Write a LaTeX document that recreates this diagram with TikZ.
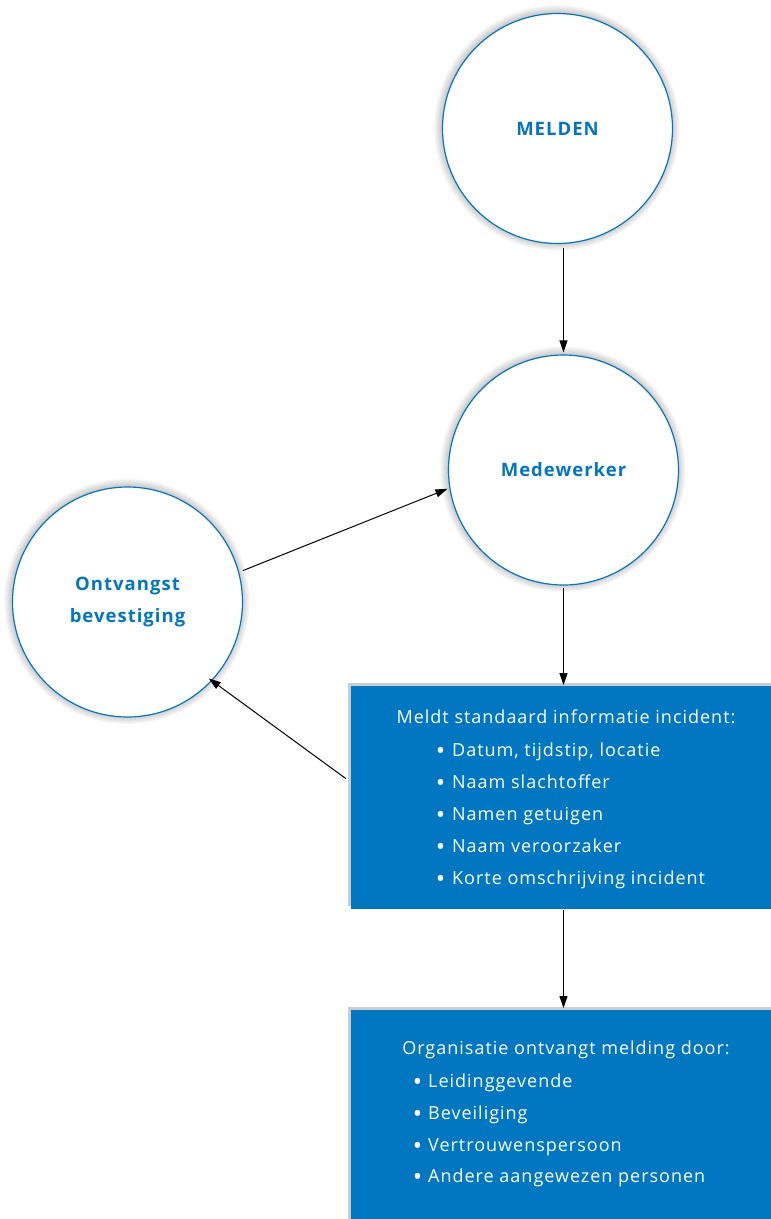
\documentclass[tikz,border=0pt]{standalone}
\usepackage{fontspec}
\setmainfont[LetterSpace=5.5]{Open Sans}
\usetikzlibrary{shadows,fadings,arrows.meta}
\definecolor{meldblauw}{RGB}{0,119,192}
\newcommand{\opsom}[1]{\llap{\raisebox{-3pt}{\fontsize{25}{25}\selectfont\textbullet}\hspace{#1}}}

\begin{document}
\begin{tikzpicture}[x=1pt,y=-1pt,
   rondje/.style={circle,draw=meldblauw,line width=1.2pt,fill=white,minimum size=230pt,
      inner sep=0pt,align=center,text=meldblauw,font=\fontsize{18.5}{32}\selectfont\bfseries,
      circular glow={shadow scale=1.07,opacity=.45,fill=black,shadow xshift=-1pt,shadow yshift=1pt}},
   blok/.style={rectangle,fill=meldblauw,inner sep=0pt,anchor=north west,
      drop shadow={shadow xshift=-3pt,shadow yshift=3pt,opacity=.2,fill=black}},
   regel/.style={text=white,font=\fontsize{18}{32}\selectfont,inner sep=0pt},
   pijl/.style={-{Triangle[length=12pt,width=8pt]},line width=1pt}]
   \useasboundingbox (0,0) rectangle (771,1219);
   % cirkels
   \node[rondje] (melden) at (557.5,128.5) {MELDEN};
   \node[rondje] (medewerker) at (563.5,470) {Medewerker};
   \node[rondje] (ontvangst) at (127.5,602) {Ontvangst\\bevestiging};
   % blokken
   \node[blok,minimum width=430pt,minimum height=223pt] (meldt) at (351,686) {};
   \node[blok,minimum width=430pt,minimum height=220pt] (organisatie) at (351,1010) {};
   \node[regel,anchor=base] (meldtkop) at (566,723) {Meldt standaard informatie incident:};
   \node[regel,anchor=base west] (meldt1) at (452,756) {\opsom{7pt}Datum, tijdstip, locatie};
   \node[regel,anchor=base west] (meldt2) at (452,788) {\opsom{7pt}Naam slachtoffer};
   \node[regel,anchor=base west] (meldt3) at (452,820) {\opsom{7pt}Namen getuigen};
   \node[regel,anchor=base west] (meldt4) at (452,852) {\opsom{7pt}Naam veroorzaker};
   \node[regel,anchor=base west] (meldt5) at (452,884) {\opsom{7pt}Korte omschrijving incident};
   \node[regel,anchor=base] (orgkop) at (566,1054) {Organisatie ontvangt melding door:};
   \node[regel,anchor=base west] (org1) at (428,1087) {\opsom{6pt}Leidinggevende};
   \node[regel,anchor=base west] (org2) at (428,1119) {\opsom{6pt}Beveiliging};
   \node[regel,anchor=base west] (org3) at (428,1151) {\opsom{6pt}Vertrouwenspersoon};
   \node[regel,anchor=base west] (org4) at (428,1182) {\opsom{6pt}Andere aangewezen personen};
   % pijlen
   \draw[pijl,shorten <=4pt,shorten >=2pt] (melden.south -| medewerker) -- (medewerker.north);
   \draw[pijl,shorten <=2pt,shorten >=1pt] (medewerker.south) -- (medewerker.south |- meldt.north);
   \draw[pijl,shorten <=1pt,shorten >=2pt] (meldt.south -| medewerker) -- (organisatie.north -| medewerker);
   \draw[pijl,shorten <=4pt,shorten >=2pt] (ontvangst.15) -- (medewerker.189);
   \draw[pijl,shorten >=-4pt] ([xshift=-5pt,yshift=19pt]meldt.west) -- (ontvangst.-43);
\end{tikzpicture}
\end{document}
